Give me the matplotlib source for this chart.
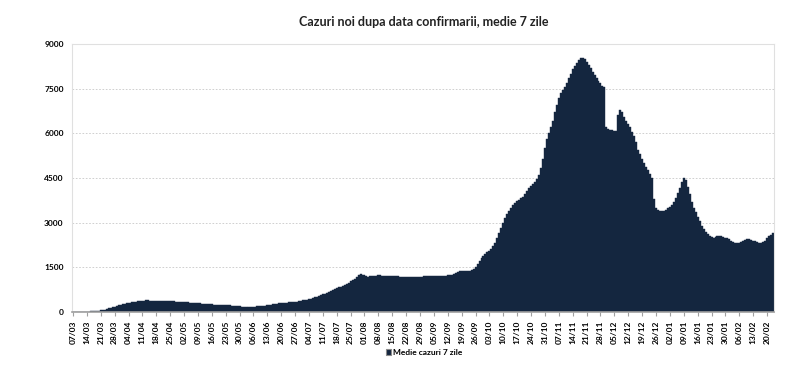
import matplotlib
matplotlib.use("Agg")
import matplotlib.pyplot as plt
import numpy as np
import pandas as pd

# 7-day average of new confirmed cases, one value per day from 07/03/2020
MAR = [3, 3, 4, 5, 6, 8, 10, 13, 16, 20, 25, 31, 38, 46, 56, 68, 82, 100, 120, 140,
       160, 180, 200, 220, 240]
APR = [260, 275, 290, 305, 315, 325, 335, 345, 355, 365, 375, 385, 390, 388, 385,
       383, 380, 378, 375, 378, 380, 377, 372, 368, 365, 362, 358, 352, 348, 342]
MAY = [338, 333, 328, 322, 316, 310, 304, 298, 292, 286, 280, 275, 270, 264, 258,
       252, 247, 243, 240, 237, 234, 230, 226, 223, 220, 216, 212, 205, 195, 185, 178]
JUN = [172, 168, 165, 166, 170, 175, 180, 186, 193, 200, 208, 216, 225, 234, 245,
       258, 272, 285, 296, 305, 312, 316, 318, 320, 325, 332, 340, 348, 355, 362]
JUL = [388, 400, 415, 430, 448, 468, 490, 515, 540, 565, 592, 620, 648, 675, 705,
       738, 772, 800, 825, 852, 880, 915, 950, 990, 1030, 1070, 1120, 1185, 1240,
       1270, 1258]
AUG = [1230, 1200, 1185, 1195, 1210, 1220, 1225, 1230, 1228, 1225, 1220, 1215, 1210,
       1205, 1200, 1198, 1195, 1192, 1190, 1188, 1185, 1182, 1180, 1178, 1180, 1185,
       1190, 1188, 1185, 1190, 1195]
SEP = [1200, 1205, 1210, 1212, 1210, 1205, 1200, 1195, 1200, 1210, 1220, 1230, 1240,
       1250, 1270, 1300, 1340, 1360, 1365, 1370, 1372, 1370, 1375, 1400, 1450, 1520,
       1620, 1720, 1800, 1880]
OCT = [1950, 2000, 2050, 2120, 2220, 2330, 2480, 2650, 2820, 3000, 3150, 3280, 3400,
       3500, 3580, 3650, 3710, 3760, 3810, 3870, 3950, 4050, 4150, 4230, 4300, 4380,
       4480, 4600, 4850, 5150, 5500]
NOV = [5800, 6000, 6200, 6400, 6700, 6950, 7200, 7350, 7450, 7550, 7700, 7850, 8000,
       8150, 8250, 8350, 8450, 8520, 8520, 8480, 8400, 8300, 8180, 8050, 7950, 7850,
       7750, 7680, 7600, 7550]
DEC = [6200, 6150, 6120, 6100, 6080, 6060, 6600, 6780, 6720, 6550, 6400, 6300, 6200,
       6050, 5900, 5700, 5450, 5300, 5150, 5000, 4880, 4750, 4620, 4500, 3800, 3500,
       3430, 3400, 3380, 3400, 3430]
JAN = [3500, 3530, 3580, 3680, 3830, 3990, 4160, 4350, 4500, 4420, 4200, 3950, 3700,
       3500, 3350, 3200, 3050, 2900, 2800, 2700, 2620, 2550, 2510, 2500, 2520, 2550,
       2560, 2550, 2530, 2500, 2470]
FEB = [2440, 2400, 2360, 2330, 2320, 2330, 2360, 2400, 2430, 2450, 2440, 2420, 2400,
       2380, 2350, 2330, 2320, 2340, 2400, 2480, 2540, 2600, 2660]

START_DATE = "2020-03-07"
TITLE = "Cazuri noi dupa data confirmarii, medie 7 zile"
LEGEND_LABEL = "Medie cazuri 7 zile"
Y_TICKS = [0, 1500, 3000, 4500, 6000, 7500, 9000]

NAVY = "#14263f"

plt.rcParams["font.family"] = ["Lato", "DejaVu Sans"]

values = np.array(MAR + APR + MAY + JUN + JUL + AUG + SEP + OCT + NOV + DEC + JAN + FEB,
                  dtype=float)
dates = pd.date_range(START_DATE, periods=len(values), freq="D")
x = np.arange(len(values))

fig = plt.figure(figsize=(8.0, 3.75), dpi=100)
ax = fig.add_axes([0.09, 0.168, 0.8775, 0.715])

ax.bar(x, values, width=1.0, color=NAVY, edgecolor=NAVY, linewidth=0.3,
       label=LEGEND_LABEL, zorder=2)

ax.set_xlim(-0.5, len(values) - 0.5)
ax.set_ylim(0, 9000)
ax.set_yticks(Y_TICKS)
ax.set_yticklabels([str(v) for v in Y_TICKS], fontsize=6, fontweight="bold")
ax.yaxis.grid(True, linestyle=(0, (2, 2)), color="#c8c8c8", linewidth=0.6, zorder=0)
ax.set_axisbelow(True)

tick_idx = x[::7]
ax.set_xticks(tick_idx)
ax.set_xticklabels([dates[i].strftime("%d/%m") for i in tick_idx], rotation=90,
                   fontsize=6, fontweight="bold")
ax.tick_params(axis="y", length=0, pad=6)
ax.tick_params(axis="x", length=3, color="#a0a0a0", pad=3)

for side in ["left", "top", "right"]:
    ax.spines[side].set_color("#e0e0e0")
    ax.spines[side].set_linewidth(0.8)
ax.spines["bottom"].set_color("#a0a0a0")
ax.spines["bottom"].set_linewidth(1.2)

fig.text(0.53, 0.94, TITLE, ha="center", va="center", fontsize=9, fontweight="bold",
         color="#222222")

leg = fig.legend(loc="center", bbox_to_anchor=(0.53, 0.06), frameon=False,
                 fontsize=6, handlelength=0.7, handleheight=0.7, handletextpad=0.2)
for h in leg.legend_handles:
    h.set_edgecolor("#8a8a8a")
    h.set_linewidth(0.8)
for t in leg.get_texts():
    t.set_fontweight("bold")

fig.savefig("out.png", dpi=100)
